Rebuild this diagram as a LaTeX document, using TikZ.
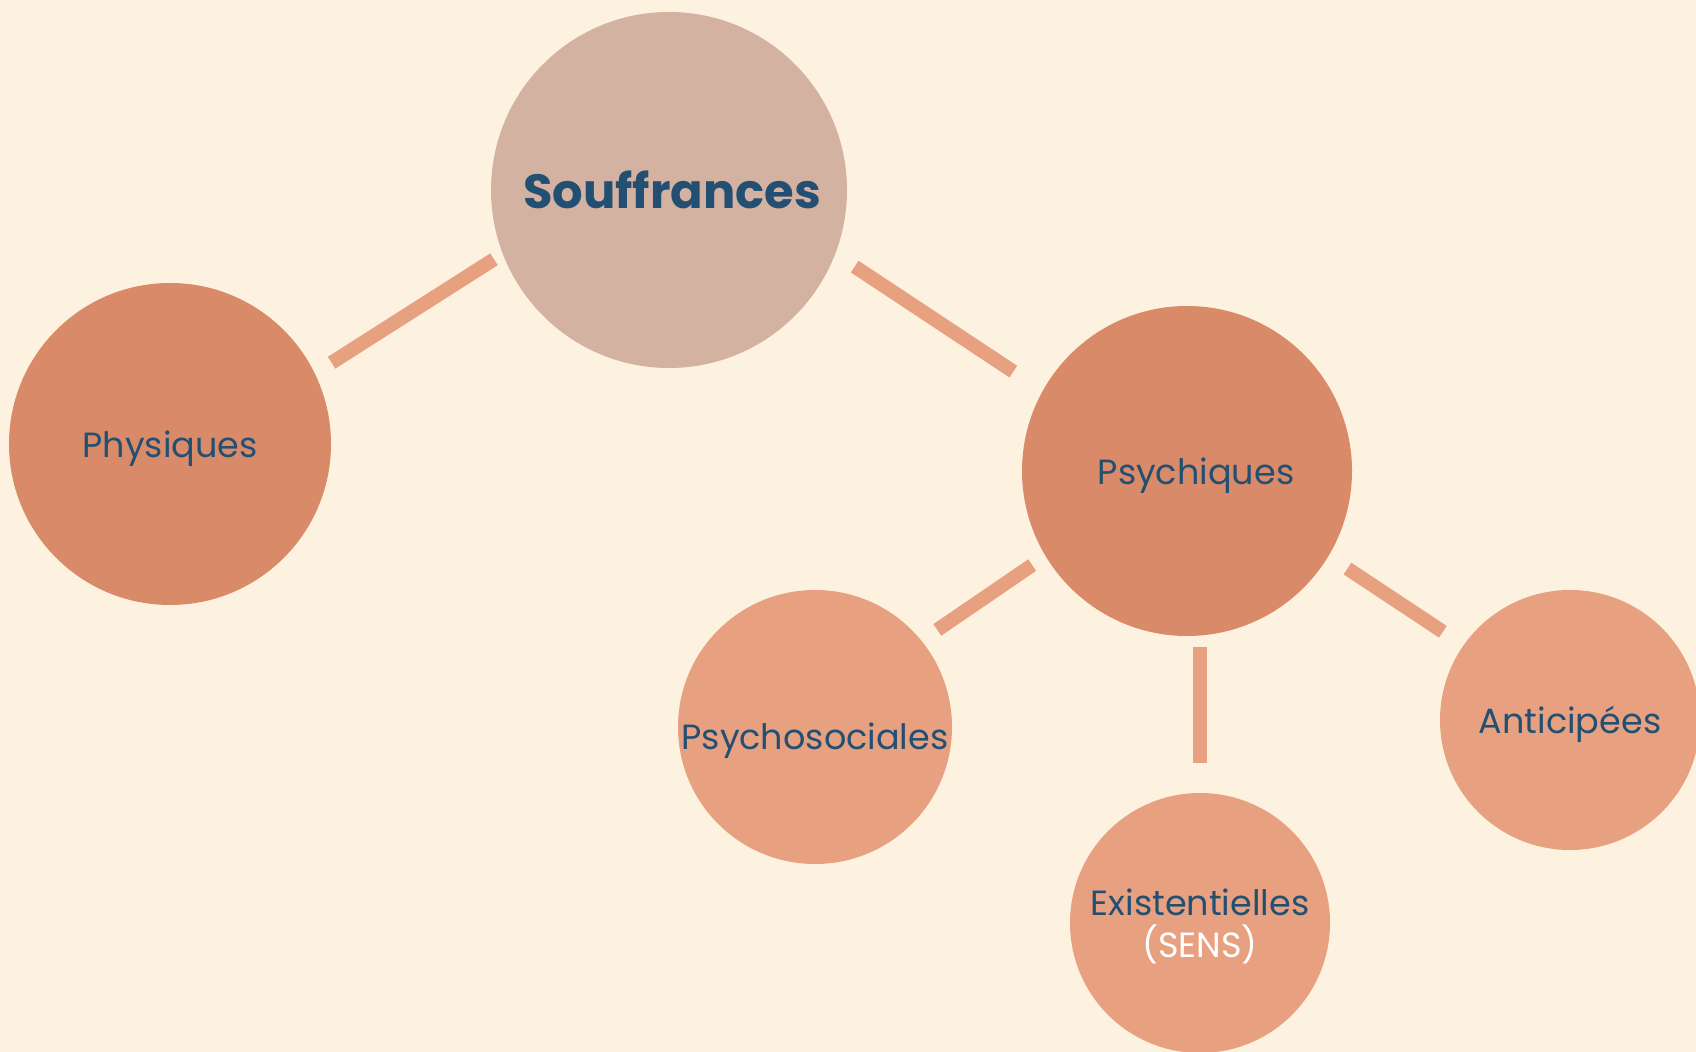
\documentclass[tikz,border=0pt]{standalone}
\usepackage{fontspec}
\setmainfont{Poppins}
\usetikzlibrary{calc}

\definecolor{fond}{HTML}{FDF1E0}
\definecolor{rosepale}{HTML}{D4B2A2}
\definecolor{brique}{HTML}{D98B69}
\definecolor{saumon}{HTML}{E8A180}
\definecolor{bleunuit}{HTML}{234F72}

\begin{document}
\begin{tikzpicture}[x=0.5pt, y=-0.5pt,
    bulle/.style={circle, inner sep=0pt, text=bleunuit, align=center, text depth=0pt,
        font=\fontsize{17.5}{21}\selectfont},
    lien/.style={draw=saumon, line width=7pt}]

    \fill[fond] (0, 0) rectangle (1696, 1052);
    \useasboundingbox (0, 0) rectangle (1696, 1052);
    \clip (0, 0) rectangle (1696, 1052);

    \node[bulle, fill=rosepale, minimum size=178pt,
        font=\fontsize{24}{30}\selectfont\bfseries] (souf) at (669, 190) {\hspace*{3pt}Souffrances};

    \node[bulle, fill=brique, minimum size=161pt] (phys) at (170, 444) {Physiques};
    \node[bulle, fill=brique, minimum size=165pt] (psy) at (1187, 471) {\hspace*{9pt}Psychiques};

    \node[bulle, fill=saumon, minimum size=137pt, text height=22pt] (psoc) at (815, 727) {Psychosociales};
    \node[bulle, fill=saumon, minimum size=130pt] (exist) at (1200, 923)
        {Existentielles\\\textcolor{white}{(SENS)}};
    \node[bulle, fill=saumon, minimum size=130pt] (antic) at (1570, 720) {Anticipées};

    \draw[lien, shorten <=9.8pt, shorten >=5pt] (phys.26) -- (souf.201);
    \draw[lien, shorten <=11.5pt, shorten >=17.4pt] (souf.339) -- (psy.151);
    \draw[lien, shorten <=7.9pt, shorten >=9.4pt] (psy.211) -- (psoc.39);
    \draw[lien, shorten <=5.5pt, shorten >=15pt] (psy.south -| exist.north) -- (exist.north);
    \draw[lien, shorten <=11.2pt, shorten >=12.2pt] (psy.329) -- (antic.145);
    \end{tikzpicture}
\end{document}
